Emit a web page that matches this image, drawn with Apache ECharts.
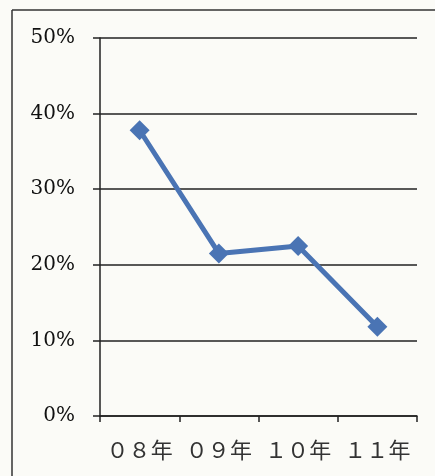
<!DOCTYPE html>
<html>
<head>
<meta charset="utf-8">
<script src="https://cdn.jsdelivr.net/npm/echarts@6/dist/echarts.min.js"></script>
<style>
  html, body { margin: 0; padding: 0; background: #fbfbf7; }
  #main { width: 435px; height: 476px; }
</style>
</head>
<body>
<div id="main"></div>
<script>
// 年ごとの割合
var years = ['０８年', '０９年', '１０年', '１１年'];
var rates = [37.8, 21.5, 22.5, 11.8];
var yTicks = [0, 10, 20, 30, 40, 50];

var chartDom = document.getElementById('main');
var myChart = echarts.init(chartDom);

var option = {
  backgroundColor: '#fbfbf7',
  animation: false,
  grid: { left: 100, right: 18, top: 38, bottom: 60 },
  // 外枠
  graphic: [
    { type: 'line', shape: { x1: 12, y1: 10, x2: 435, y2: 10 }, style: { stroke: '#333', lineWidth: 1.5 } },
    { type: 'line', shape: { x1: 12, y1: 10, x2: 12, y2: 476 }, style: { stroke: '#333', lineWidth: 1.5 } }
  ],
  xAxis: {
    type: 'category',
    data: years,
    boundaryGap: true,
    axisLine: { lineStyle: { color: '#222', width: 1.5 } },
    axisTick: { show: true, interval: 0, length: 6, lineStyle: { color: '#222', width: 1.5 } },
    axisLabel: {
      interval: 0,
      hideOverlap: false,
      margin: 23,
      fontSize: 22,
      color: '#333',
      fontFamily: 'Noto Sans CJK JP'
    }
  },
  yAxis: {
    type: 'value',
    min: yTicks[0],
    max: yTicks[yTicks.length - 1],
    interval: 10,
    axisLine: { show: true, lineStyle: { color: '#222', width: 1.5 } },
    axisTick: { show: true, length: 7, lineStyle: { color: '#222', width: 1.5 } },
    splitLine: { lineStyle: { color: '#222', width: 1.5 } },
    axisLabel: {
      margin: 25,
      fontSize: 20,
      color: '#111',
      fontFamily: 'DejaVu Serif',
      formatter: '{value}%'
    }
  },
  series: [
    {
      type: 'line',
      data: rates,
      symbol: 'diamond',
      symbolSize: 20,
      lineStyle: { color: '#4a74b4', width: 5 },
      itemStyle: { color: '#4a74b4' }
    }
  ]
};

myChart.setOption(option);
</script>
</body>
</html>
